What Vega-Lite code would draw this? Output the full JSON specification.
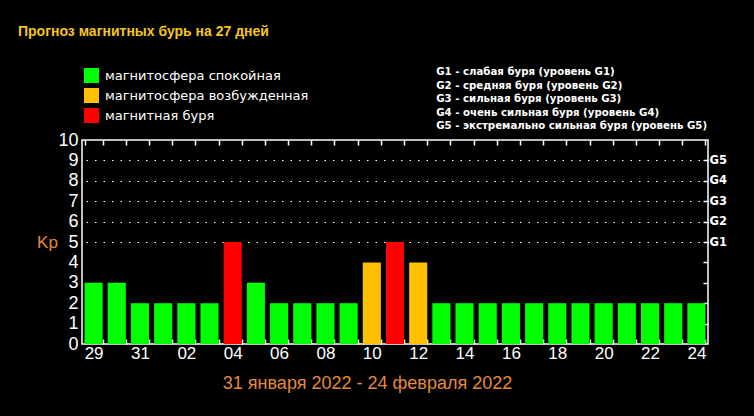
{
  "$schema": "https://vega.github.io/schema/vega-lite/v6.json",
  "autosize": {"type": "none"},
  "padding": {"left": 82, "top": 140, "right": 46, "bottom": 72},
  "width": 626,
  "height": 204,
  "background": "#000000",
  "title": {
    "text": "Прогноз магнитных бурь на 27 дней",
    "anchor": "start",
    "frame": "group",
    "dx": -64,
    "dy": -24,
    "font": "Liberation Sans",
    "fontSize": 14,
    "fontWeight": "bold",
    "color": "#F5C61E"
  },
  "data": {
    "values": [
      {"day": "29", "kp": 3, "state": "магнитосфера спокойная"},
      {"day": "30", "kp": 3, "state": "магнитосфера спокойная"},
      {"day": "31", "kp": 2, "state": "магнитосфера спокойная"},
      {"day": "01", "kp": 2, "state": "магнитосфера спокойная"},
      {"day": "02", "kp": 2, "state": "магнитосфера спокойная"},
      {"day": "03", "kp": 2, "state": "магнитосфера спокойная"},
      {"day": "04", "kp": 5, "state": "магнитная буря"},
      {"day": "05", "kp": 3, "state": "магнитосфера спокойная"},
      {"day": "06", "kp": 2, "state": "магнитосфера спокойная"},
      {"day": "07", "kp": 2, "state": "магнитосфера спокойная"},
      {"day": "08", "kp": 2, "state": "магнитосфера спокойная"},
      {"day": "09", "kp": 2, "state": "магнитосфера спокойная"},
      {"day": "10", "kp": 4, "state": "магнитосфера возбужденная"},
      {"day": "11", "kp": 5, "state": "магнитная буря"},
      {"day": "12", "kp": 4, "state": "магнитосфера возбужденная"},
      {"day": "13", "kp": 2, "state": "магнитосфера спокойная"},
      {"day": "14", "kp": 2, "state": "магнитосфера спокойная"},
      {"day": "15", "kp": 2, "state": "магнитосфера спокойная"},
      {"day": "16", "kp": 2, "state": "магнитосфера спокойная"},
      {"day": "17", "kp": 2, "state": "магнитосфера спокойная"},
      {"day": "18", "kp": 2, "state": "магнитосфера спокойная"},
      {"day": "19", "kp": 2, "state": "магнитосфера спокойная"},
      {"day": "20", "kp": 2, "state": "магнитосфера спокойная"},
      {"day": "21", "kp": 2, "state": "магнитосфера спокойная"},
      {"day": "22", "kp": 2, "state": "магнитосфера спокойная"},
      {"day": "23", "kp": 2, "state": "магнитосфера спокойная"},
      {"day": "24", "kp": 2, "state": "магнитосфера спокойная"}
    ]
  },
  "layer": [
    {
      "mark": {"type": "bar", "opacity": 0},
      "encoding": {
        "x": {
          "field": "day",
          "type": "ordinal",
          "sort": null,
          "axis": {
            "orient": "top",
            "labels": false,
            "domain": false,
            "title": null,
            "tickBand": "extent",
            "tickSize": -5,
            "tickColor": "#ffffff",
            "tickWidth": 1.5
          }
        },
        "y": {
          "field": "kp",
          "type": "quantitative",
          "axis": {
            "orient": "right",
            "values": [1, 2, 3, 4, 5, 6, 7, 8, 9],
            "labelExpr": "datum.value >= 5 ? 'G' + (datum.value - 4) : ''",
            "labelFont": "DejaVu Sans",
            "labelFontWeight": "bold",
            "labelFontSize": 11.5,
            "labelColor": "#ffffff",
            "labelPadding": 6,
            "domain": false,
            "tickSize": -5,
            "tickColor": "#ffffff",
            "tickWidth": 1.5,
            "grid": true,
            "gridColor": "#ffffff",
            "gridDash": [1.5, 7],
            "gridWidth": 1.2,
            "gridOpacity": {"condition": {"test": "datum.value >= 5", "value": 1}, "value": 0},
            "title": null
          }
        }
      }
    },
    {
      "mark": {"type": "bar"},
      "encoding": {
        "x": {
          "field": "day",
          "type": "ordinal",
          "sort": null,
          "scale": {"paddingInner": 0.22, "paddingOuter": 0.11},
          "axis": {
            "orient": "bottom",
            "domain": false,
            "tickBand": "extent",
            "tickSize": -5,
            "tickColor": "#ffffff",
            "tickWidth": 1.5,
            "labelAngle": 0,
            "labelExpr": "round(datum.index * 26) % 2 == 0 ? datum.label : ''",
            "labelFont": "Liberation Sans",
            "labelFontSize": 17,
            "labelColor": "#ffffff",
            "labelPadding": 6,
            "title": "31 января 2022 - 24 февраля 2022",
            "titleFont": "Liberation Sans",
            "titleFontSize": 18,
            "titleFontWeight": "normal",
            "titleColor": "#E38A3C",
            "titleX": 285,
            "titleY": 39,
            "titleAlign": "center",
            "titleBaseline": "middle"
          }
        },
        "y": {
          "field": "kp",
          "type": "quantitative",
          "scale": {"domain": [0, 10], "nice": false},
          "axis": {
            "orient": "left",
            "values": [0, 1, 2, 3, 4, 5, 6, 7, 8, 9, 10],
            "ticks": false,
            "domain": false,
            "grid": false,
            "labelFont": "Liberation Sans",
            "labelFontSize": 18,
            "labelColor": "#ffffff",
            "labelPadding": 4,
            "title": "Kp",
            "titleAngle": 0,
            "titleFont": "Liberation Sans",
            "titleFontSize": 17,
            "titleFontWeight": "normal",
            "titleColor": "#E38A3C",
            "titleX": -35,
            "titleY": 102,
            "titleAlign": "center",
            "titleBaseline": "middle"
          }
        },
        "color": {
          "field": "state",
          "type": "nominal",
          "scale": {
            "domain": ["магнитосфера спокойная", "магнитосфера возбужденная", "магнитная буря"],
            "range": ["#00FF00", "#FFC000", "#FF0000"]
          },
          "legend": {
            "orient": "none",
            "legendX": 2,
            "legendY": -72,
            "title": null,
            "symbolType": "square",
            "symbolSize": 225,
            "symbolStrokeWidth": 0,
            "symbolOpacity": 1,
            "labelFont": "DejaVu Sans",
            "labelFontSize": 13,
            "labelColor": "#ffffff",
            "labelLimit": 0,
            "labelOffset": 6,
            "rowPadding": 5
          }
        }
      }
    },
    {
      "data": {
        "values": [
          {"level": "G1 - слабая буря (уровень G1)"},
          {"level": "G2 - средняя буря (уровень G2)"},
          {"level": "G3 - сильная буря (уровень G3)"},
          {"level": "G4 - очень сильная буря (уровень G4)"},
          {"level": "G5 - экстремально сильная буря (уровень G5)"}
        ]
      },
      "mark": {"type": "point", "opacity": 0},
      "encoding": {
        "shape": {
          "field": "level",
          "type": "nominal",
          "sort": null,
          "legend": {
            "orient": "none",
            "legendX": 344,
            "legendY": -73,
            "title": null,
            "symbolSize": 0,
            "symbolOpacity": 0,
            "labelOffset": 0,
            "labelFont": "DejaVu Sans",
            "labelFontWeight": "bold",
            "labelFontSize": 10.2,
            "labelColor": "#ffffff",
            "labelLimit": 0,
            "rowPadding": 2.5
          }
        }
      }
    }
  ],
  "resolve": {"axis": {"x": "independent", "y": "independent"}},
  "config": {
    "view": {"stroke": "#ffffff", "strokeWidth": 1.5}
  }
}
